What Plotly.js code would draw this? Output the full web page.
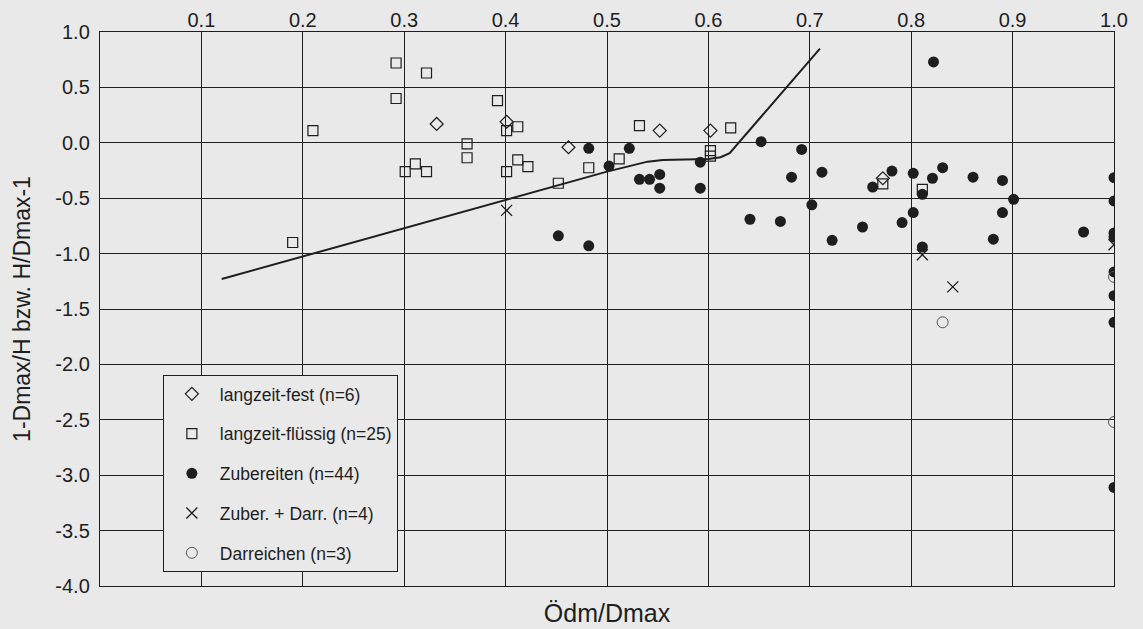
<!DOCTYPE html>
<html>
<head>
<meta charset="utf-8">
<script src="https://cdn.plot.ly/plotly-3.0.1.min.js"></script>
<style>html,body{margin:0;padding:0;background:#e9e9e9;}#chart{width:1143px;height:629px;}</style>
</head>
<body>
<div id="chart"></div>
<script>
// langzeit-fest (diamonds)
const festX = [0.332, 0.401, 0.462, 0.552, 0.602, 0.772];
const festY = [0.17, 0.19, -0.04, 0.11, 0.11, -0.32];

// langzeit-flüssig (open squares)
const fluessigX = [0.190, 0.210, 0.292, 0.292, 0.322, 0.301, 0.311, 0.322, 0.362, 0.362, 0.392, 0.401, 0.401, 0.412, 0.412, 0.422, 0.452, 0.482, 0.512, 0.532, 0.602, 0.602, 0.622, 0.772, 0.811];
const fluessigY = [-0.90, 0.11, 0.72, 0.40, 0.63, -0.26, -0.19, -0.26, -0.01, -0.135, 0.38, 0.11, -0.26, 0.145, -0.155, -0.215, -0.365, -0.225, -0.145, 0.155, -0.07, -0.12, 0.135, -0.37, -0.42];

// Zubereiten (filled circles)
const zubX = [0.452, 0.482, 0.482, 0.522, 0.502, 0.532, 0.542, 0.552, 0.552, 0.592, 0.592, 0.652, 0.641, 0.692, 0.682, 0.712, 0.702, 0.671, 0.722, 0.752, 0.762, 0.781, 0.802, 0.791, 0.802, 0.811, 0.822, 0.821, 0.831, 0.861, 0.890, 0.901, 0.890, 0.881, 0.811, 0.970, 1.0, 1.0, 1.0, 1.0, 1.0, 1.0, 1.0, 1.0];
const zubY = [-0.84, -0.93, -0.05, -0.05, -0.21, -0.33, -0.33, -0.285, -0.41, -0.175, -0.41, 0.01, -0.69, -0.06, -0.31, -0.265, -0.56, -0.71, -0.88, -0.76, -0.40, -0.255, -0.275, -0.72, -0.63, -0.465, 0.73, -0.32, -0.225, -0.31, -0.34, -0.51, -0.63, -0.87, -0.94, -0.805, -0.315, -0.525, -0.815, -0.85, -1.165, -1.38, -1.62, -3.11];

// Zuber. + Darr. (x)
const zdX = [0.401, 0.811, 0.841, 1.0];
const zdY = [-0.61, -1.01, -1.30, -0.92];

// Darreichen (open circles)
const darX = [0.831, 1.0, 1.0];
const darY = [-1.62, -1.21, -2.52];

// reference curve
const curveX = [0.12, 0.50, 0.54, 0.555, 0.60, 0.612, 0.621, 0.631, 0.71];
const curveY = [-1.23, -0.26, -0.17, -0.155, -0.147, -0.13, -0.093, 0.012, 0.85];

// tick labels
const xTickVals = [0.1, 0.2, 0.3, 0.4, 0.5, 0.6, 0.7, 0.8, 0.9, 1.0];
const xTickText = ['0.1', '0.2', '0.3', '0.4', '0.5', '0.6', '0.7', '0.8', '0.9', '1.0'];
const yTickVals = [1.0, 0.5, 0.0, -0.5, -1.0, -1.5, -2.0, -2.5, -3.0, -3.5, -4.0];
const yTickText = ['1.0', '0.5', '0.0', '-0.5', '-1.0', '-1.5', '-2.0', '-2.5', '-3.0', '-3.5', '-4.0'];

const ink = '#1e1e1e';
const bg = '#e9e9e9';
const fnt = 'Liberation Sans, Arial, sans-serif';

const traces = [
  {x: curveX, y: curveY, xaxis: 'x2', yaxis: 'y', mode: 'lines', line: {color: ink, width: 2}, showlegend: false, hoverinfo: 'skip'},
  {x: fluessigX, y: fluessigY, mode: 'markers', name: 'langzeit-flüssig (n=25)', legendrank: 2, legendgroup: 'b',
   marker: {symbol: 'square-open', size: 10, color: ink, line: {width: 1.2}}},
  {x: festX, y: festY, mode: 'markers', name: 'langzeit-fest (n=6)', legendrank: 1, legendgroup: 'a',
   marker: {symbol: 'diamond-open', size: 10, color: ink, line: {width: 1.2}}},
  {x: zubX, y: zubY, mode: 'markers', name: 'Zubereiten (n=44)', legendrank: 3, legendgroup: 'c',
   marker: {symbol: 'circle', size: 11, color: ink}},
  {x: zdX, y: zdY, mode: 'markers', name: 'Zuber. + Darr. (n=4)', legendrank: 4, legendgroup: 'd',
   marker: {symbol: 'x-thin-open', size: 11, color: ink, line: {width: 1.3}}},
  {x: darX, y: darY, mode: 'markers', name: 'Darreichen (n=3)', legendrank: 5, legendgroup: 'e',
   marker: {symbol: 'circle-open', size: 11, color: '#555', line: {width: 1}}}
];

const layout = {
  width: 1143, height: 629,
  paper_bgcolor: bg, plot_bgcolor: bg,
  margin: {l: 100, r: 29, t: 32, b: 43},
  font: {family: fnt, color: ink, size: 20},
  showlegend: true,
  xaxis: {
    range: [0, 1], tickvals: xTickVals, showticklabels: false, ticks: '',
    showgrid: true, gridcolor: ink, gridwidth: 1, zeroline: false,
    showline: true, linecolor: ink, linewidth: 1.2, mirror: true,
    title: {text: 'Ödm/Dmax', font: {size: 25, family: fnt, color: ink}, standoff: 18}
  },
  xaxis2: {
    range: [0, 1], overlaying: 'x', side: 'top', tickvals: xTickVals, ticktext: xTickText,
    showgrid: false, zeroline: false, ticks: '', tickfont: {size: 20, family: fnt, color: ink}
  },
  yaxis: {
    range: [-4, 1], tickvals: yTickVals, ticktext: yTickText, ticks: '',
    showgrid: true, gridcolor: ink, gridwidth: 1, zeroline: false,
    showline: true, linecolor: ink, linewidth: 1.2, mirror: true,
    tickfont: {size: 20, family: fnt, color: ink}, ticklabelstandoff: 5,
    title: {text: '1-Dmax/H bzw. H/Dmax-1', font: {size: 23, family: fnt, color: ink}, standoff: 18}
  },
  legend: {
    x: 0.062, y: 0.381, xanchor: 'left', yanchor: 'top',
    bgcolor: bg, bordercolor: ink, borderwidth: 1,
    font: {size: 17.5, family: fnt, color: ink},
    tracegroupgap: 14, itemwidth: 46, entrywidth: 265
  }
};

Plotly.newPlot('chart', traces, layout, {displayModeBar: false, staticPlot: true});
</script>
</body>
</html>
